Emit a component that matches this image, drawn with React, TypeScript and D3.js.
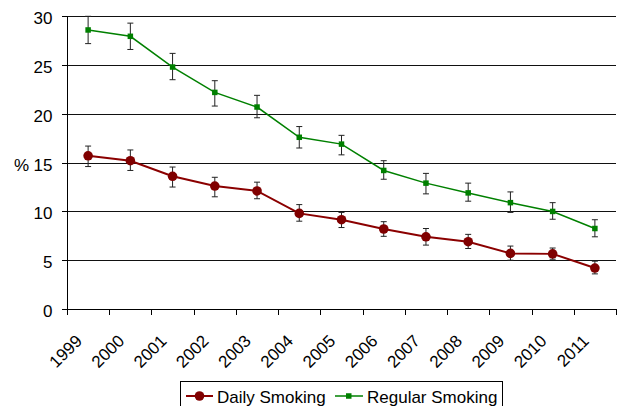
import React from 'react';
import * as d3 from 'd3';

const years = ['1999', '2000', '2001', '2002', '2003', '2004', '2005', '2006', '2007', '2008', '2009', '2010', '2011'];
const daily = [15.7, 15.2, 13.6, 12.6, 12.1, 9.8, 9.15, 8.2, 7.4, 6.9, 5.7, 5.65, 4.2];
const dailyLow = [14.6, 14.2, 12.5, 11.5, 11.3, 9.0, 8.35, 7.45, 6.55, 6.2, 5.0, 5.1, 3.6];
const dailyHigh = [16.7, 16.3, 14.55, 13.5, 13.0, 10.7, 9.9, 8.95, 8.25, 7.65, 6.45, 6.25, 4.9];
const regular = [28.6, 27.95, 24.8, 22.2, 20.7, 17.6, 16.9, 14.2, 12.9, 11.9, 10.9, 10.0, 8.25];
const regularLow = [27.2, 26.6, 23.5, 20.8, 19.6, 16.5, 15.8, 13.3, 11.8, 11.05, 9.9, 9.2, 7.4];
const regularHigh = [30.0, 29.3, 26.2, 23.4, 21.9, 18.7, 17.8, 15.2, 13.9, 12.9, 12.0, 10.9, 9.15];
const yTicks = [0, 5, 10, 15, 20, 25, 30];

const W = 617, H = 406;
const left = 67, right = 616, top = 16.3, bottom = 309;
const font = 'Liberation Sans, Arial, sans-serif';

function ErrorBars({ lo, hi, x, y }: { lo: number[]; hi: number[]; x: (i: number) => number; y: d3.ScaleLinear<number, number> }) {
  return (
    <g stroke="#222" strokeWidth={1}>
      {lo.map((l, i) => {
        const cx = x(i);
        return (
          <g key={i}>
            <line x1={cx} x2={cx} y1={y(l)} y2={y(hi[i])} />
            <line x1={cx - 3} x2={cx + 3} y1={y(l)} y2={y(l)} />
            <line x1={cx - 3} x2={cx + 3} y1={y(hi[i])} y2={y(hi[i])} />
          </g>
        );
      })}
    </g>
  );
}

export default function App() {
  const x = d3.scaleBand().domain(years).range([left, right]).padding(0);
  const y = d3.scaleLinear().domain([0, 30]).range([bottom, top]);
  const cx = (i: number) => x(years[i])! + x.bandwidth() / 2;
  const line = d3.line<number>().x((_, i) => cx(i)).y(d => y(d));
  const boundaries = years.map(d => x(d)!).concat([right]);

  return (
    <svg width={W} height={H} style={{ position: 'absolute', left: 0, top: 0, background: '#fff' }} fontFamily={font}>
      {/* grid */}
      {yTicks.map(t => (
        <g key={t}>
          {t > 0 && <line x1={left} x2={right} y1={Math.round(y(t)) + 0.5} y2={Math.round(y(t)) + 0.5} stroke="#111" strokeWidth={1} />}
          <line x1={left - 5} x2={left} y1={Math.round(y(t)) + 0.5} y2={Math.round(y(t)) + 0.5} stroke="#000" />
          <text x={52.5} y={y(t) + 8} textAnchor="end" fontSize={17} fill="#000">{t}</text>
        </g>
      ))}
      <text x={14} y={y(15) + 8} fontSize={17} fill="#000">%</text>
      {/* axes */}
      <line x1={left + 0.5} x2={left + 0.5} y1={top} y2={bottom} stroke="#000" />
      <line x1={left} x2={right} y1={Math.round(bottom) + 0.5} y2={Math.round(bottom) + 0.5} stroke="#000" />
      {boundaries.map((b, i) => (
        <line key={i} x1={Math.round(b) + 0.5} x2={Math.round(b) + 0.5} y1={bottom} y2={bottom + 6} stroke="#000" />
      ))}
      {years.map((yr, i) => (
        <text key={yr} transform={`translate(${cx(i) - 5},${bottom + 33}) rotate(-45)`} textAnchor="end" fontSize={17} fill="#000">{yr}</text>
      ))}
      {/* series */}
      <ErrorBars lo={regularLow} hi={regularHigh} x={cx} y={y} />
      <ErrorBars lo={dailyLow} hi={dailyHigh} x={cx} y={y} />
      <path d={line(regular)!} fill="none" stroke="#008000" strokeWidth={1.5} />
      {regular.map((v, i) => (
        <rect key={i} x={cx(i) - 2.75} y={y(v) - 2.75} width={5.5} height={5.5} fill="#008000" />
      ))}
      <path d={line(daily)!} fill="none" stroke="#8b0000" strokeWidth={2} />
      {daily.map((v, i) => (
        <circle key={i} cx={cx(i)} cy={y(v)} r={4.8} fill="#800000" />
      ))}
      {/* legend */}
      <rect x={180.5} y={381.5} width={322} height={30} fill="#fff" stroke="#000" />
      <line x1={186} x2={213} y1={396} y2={396} stroke="#8b0000" strokeWidth={2} />
      <circle cx={199.5} cy={396} r={4.8} fill="#800000" />
      <text x={217} y={402.5} fontSize={17} fill="#000">Daily Smoking</text>
      <line x1={335} x2={363} y1={396} y2={396} stroke="#008000" strokeWidth={1.5} />
      <rect x={346} y={393.25} width={5.5} height={5.5} fill="#008000" />
      <text x={367} y={402.5} fontSize={17} fill="#000">Regular Smoking</text>
    </svg>
  );
}
